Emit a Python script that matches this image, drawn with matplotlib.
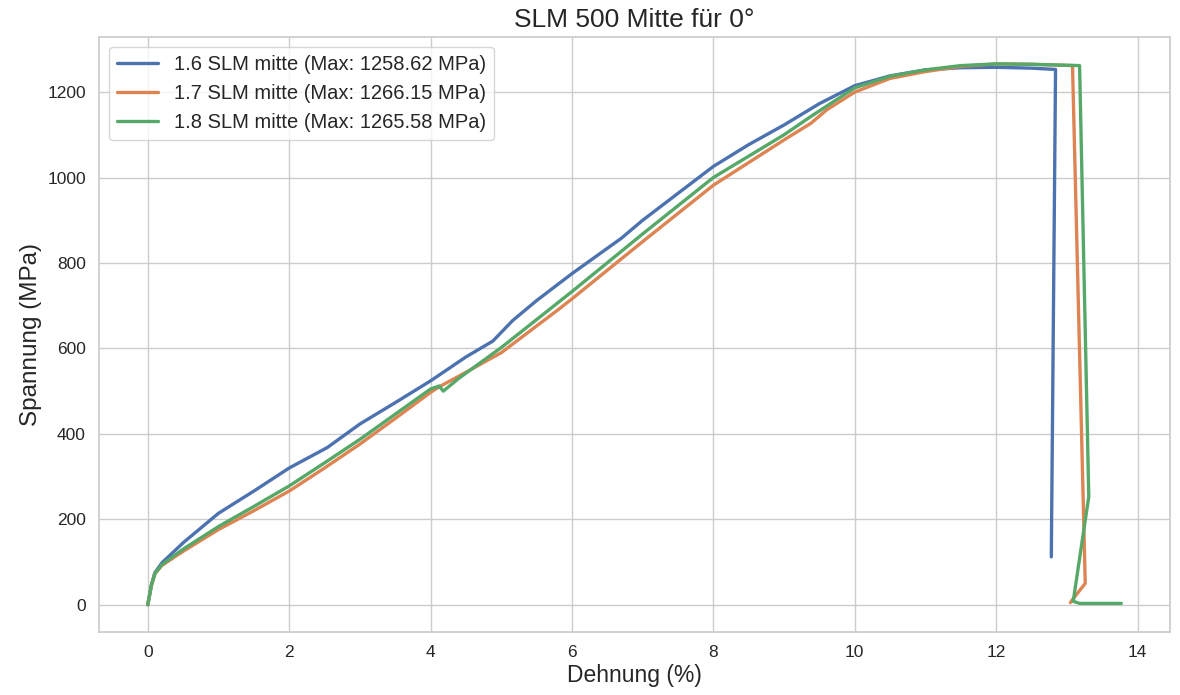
import numpy as np
import matplotlib
matplotlib.use("Agg")
import matplotlib.pyplot as plt
import seaborn as sns

# Dehnung (%) / Spannung (MPa)
x16 = [0.0, 0.05, 0.1, 0.2, 0.5, 1.0, 1.5, 2.0, 2.54, 3.0, 3.5, 4.0, 4.5, 4.88,
       5.16, 5.5, 6.0, 6.7, 7.0, 7.5, 8.0, 8.5, 9.0, 9.5, 10.0, 10.5, 11.0, 11.5,
       12.0, 12.5, 12.84, 12.78]
y16 = [0, 45, 75, 98, 145, 214, 266, 320, 368, 423, 473, 524, 580, 617,
       665, 712, 775, 858, 900, 963, 1026, 1077, 1123, 1173, 1215, 1238, 1252, 1257,
       1258, 1256, 1253, 112]

x17 = [0.0, 0.05, 0.1, 0.2, 0.5, 1.0, 1.5, 2.0, 2.5, 3.0, 3.5, 4.0, 4.12, 4.4,
       5.0, 5.8, 6.0, 7.0, 8.0, 9.0, 9.38, 9.6, 10.0, 10.5, 11.0, 11.5, 12.0,
       12.5, 13.08, 13.26, 13.08, 13.05]
y17 = [0, 45, 72, 92, 125, 176, 220, 266, 320, 376, 436, 497, 510, 535,
       590, 690, 716, 850, 982, 1088, 1127, 1158, 1200, 1232, 1248, 1260, 1266,
       1265, 1262, 50, 12, 5]

x18 = [0.0, 0.05, 0.1, 0.2, 0.5, 1.0, 1.5, 2.0, 2.5, 3.0, 3.5, 4.0, 4.12, 4.18,
       4.4, 5.0, 6.0, 7.0, 8.0, 9.0, 9.38, 10.0, 10.5, 11.0, 11.5, 12.0, 12.5, 13.18,
       13.31, 13.09, 13.18, 13.77]
y18 = [0, 45, 73, 94, 130, 183, 230, 278, 332, 387, 446, 505, 512, 500,
       530, 602, 733, 868, 1000, 1100, 1143, 1210, 1237, 1252, 1262, 1266, 1265, 1262,
       253, 8, 3, 3]

labels = ["1.6 SLM mitte (Max: 1258.62 MPa)",
          "1.7 SLM mitte (Max: 1266.15 MPa)",
          "1.8 SLM mitte (Max: 1265.58 MPa)"]

sns.set_theme(style="whitegrid")
plt.rcParams['font.family'] = ['Liberation Sans', 'DejaVu Sans']
fig = plt.figure(figsize=(11.8, 6.95), dpi=100)
ax = fig.add_axes([0.084, 0.091, 0.9075, 0.856])

ax.plot(x16, y16, lw=2.4, label=labels[0])
ax.plot(x17, y17, lw=2.4, label=labels[1])
ax.plot(x18, y18, lw=2.4, label=labels[2])

ax.set_title("SLM 500 Mitte für 0°", fontsize=19, pad=7)
ax.set_xlabel("Dehnung (%)", fontsize=16.5, labelpad=3)
ax.set_ylabel("Spannung (MPa)", fontsize=17.5)
ax.set_xticks(np.arange(0, 15, 2))
ax.set_yticks(np.arange(0, 1201, 200))
ax.tick_params(labelsize=12.5)
ax.legend(loc="upper left", fontsize=14.5)

fig.savefig("out.png", dpi=100)
